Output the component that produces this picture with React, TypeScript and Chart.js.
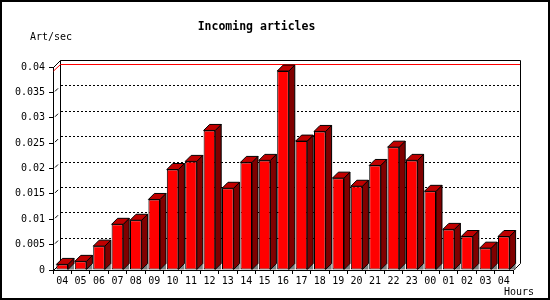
import React, { useEffect, useRef } from "react";
import { Chart, registerables } from "chart.js";

Chart.register(...registerables);

// ---- data ----
const hours: string[] = [
  "04", "05", "06", "07", "08", "09", "10", "11", "12", "13", "14", "15", "16",
  "17", "18", "19", "20", "21", "22", "23", "00", "01", "02", "03", "04",
];
const artPerSec: number[] = [
  0.0011, 0.0017, 0.0047, 0.009, 0.0098, 0.0139, 0.0198, 0.0214, 0.0275, 0.0161,
  0.0212, 0.0216, 0.0392, 0.0254, 0.0273, 0.0181, 0.0165, 0.0206, 0.0242, 0.0216,
  0.0155, 0.008, 0.0066, 0.0043, 0.0066,
];
const yMin = 0;
const yMax = 0.04;
const yStep = 0.005;
const chartTitle = "Incoming articles";
const yUnit = "Art/sec";
const xUnit = "Hours";

const FONT = "'DejaVu Sans Mono', monospace";
const DEPTH = 6; // bar depth
const WALL = 7; // back wall offset

const px = (v: number) => Math.round(v) + 0.5;

const threeDPlugin = {
  id: "threeD",
  beforeDraw(chart: any) {
    const { ctx, width, height } = chart;
    ctx.save();
    ctx.fillStyle = "#fff";
    ctx.fillRect(0, 0, width, height);
    ctx.restore();
  },
  beforeDatasetsDraw(chart: any) {
    const { ctx, chartArea } = chart;
    const { left, right, top, bottom } = chartArea;
    const y = chart.scales.y;
    ctx.save();
    ctx.lineWidth = 1;

    // dotted gridlines on the back wall
    ctx.strokeStyle = "#000";
    const tickVals = y.ticks.map((t: any) => t.value);
    tickVals.forEach((v: number) => {
      if (v <= yMin || v >= yMax - 1e-9) return;
      const yf = y.getPixelForValue(v);
      const yb = px(yf - WALL);
      ctx.setLineDash([2, 2]);
      ctx.beginPath();
      ctx.moveTo(Math.round(left + WALL) + 1, yb);
      ctx.lineTo(Math.round(right + WALL), yb);
      ctx.stroke();
      ctx.setLineDash([]);
      // short slash from the front axis
      ctx.beginPath();
      ctx.moveTo(left + 2, yf - 1);
      ctx.lineTo(left + 5, yf - 4);
      ctx.stroke();
    });

    // back wall frame
    ctx.strokeStyle = "#000";
    ctx.beginPath();
    ctx.moveTo(px(left + WALL), px(bottom - WALL));
    ctx.lineTo(px(left + WALL), px(top - WALL));
    ctx.lineTo(px(right + WALL), px(top - WALL));
    ctx.lineTo(px(right + WALL), px(bottom - WALL));
    ctx.stroke();
    ctx.beginPath();
    ctx.moveTo(left + 0.5, top + 0.5);
    ctx.lineTo(left + WALL + 0.5, top - WALL + 0.5);
    ctx.moveTo(right + 0.5, bottom + 0.5);
    ctx.lineTo(right + WALL + 0.5, bottom - WALL + 0.5);
    ctx.moveTo(left + 0.5, bottom + 0.5);
    ctx.lineTo(left + WALL + 0.5, bottom - WALL + 0.5);
    ctx.stroke();

    // red max line
    const maxVal = Math.max(...artPerSec);
    const yfm = y.getPixelForValue(maxVal);
    const ybm = px(yfm - WALL);
    ctx.strokeStyle = "#ff0000";
    ctx.beginPath();
    ctx.moveTo(left + 0.5, yfm);
    ctx.lineTo(left + WALL + 0.5, ybm);
    ctx.lineTo(Math.round(right + WALL), ybm);
    ctx.stroke();

    // 3D parts of bars
    const meta = chart.getDatasetMeta(0);
    meta.data.forEach((el: any) => {
      const p = el.getProps(["x", "y", "base", "width"], true);
      const l = p.x - p.width / 2;
      const r = p.x + p.width / 2;
      const t = p.y;
      const b = p.base;
      const d = DEPTH;
      ctx.strokeStyle = "#000";
      // shadow on the floor
      ctx.fillStyle = "#808080";
      ctx.beginPath();
      ctx.moveTo(r, b);
      ctx.lineTo(r + d, b - d);
      ctx.lineTo(r + d, b);
      ctx.closePath();
      ctx.fill();
      // side face
      ctx.fillStyle = "#800000";
      ctx.beginPath();
      ctx.moveTo(r, t);
      ctx.lineTo(r + d, t - d);
      ctx.lineTo(r + d, b - d);
      ctx.lineTo(r, b);
      ctx.closePath();
      ctx.fill();
      ctx.stroke();
      // top face
      ctx.fillStyle = "#c00000";
      ctx.beginPath();
      ctx.moveTo(l, t);
      ctx.lineTo(l + d, t - d);
      ctx.lineTo(r + d, t - d);
      ctx.lineTo(r, t);
      ctx.closePath();
      ctx.fill();
      ctx.stroke();
    });
    ctx.restore();
  },
  afterDraw(chart: any) {
    const { ctx, width, height } = chart;
    ctx.save();
    ctx.fillStyle = "#000";
    ctx.font = `10px ${FONT}`;
    ctx.textBaseline = "middle";
    ctx.textAlign = "left";
    ctx.fillText(yUnit, 30, 37);
    ctx.fillText(xUnit, 504, 292);
    ctx.strokeStyle = "#000";
    ctx.lineWidth = 2;
    ctx.strokeRect(1, 1, width - 2, height - 2);
    ctx.restore();
  },
};

export default function App() {
  const canvasRef = useRef<HTMLCanvasElement | null>(null);

  useEffect(() => {
    if (!canvasRef.current) return;
    const chart = new Chart(canvasRef.current, {
      type: "bar",
      data: {
        labels: hours,
        datasets: [
          {
            data: artPerSec,
            backgroundColor: "#ff0000",
            borderColor: "#000",
            borderWidth: 1,
            borderSkipped: false,
            barPercentage: 0.63,
            categoryPercentage: 1,
          },
        ],
      },
      options: {
        responsive: false,
        animation: false,
        devicePixelRatio: 1,
        layout: { padding: { left: 0, right: 37, top: 0, bottom: 0 } },
        plugins: {
          legend: { display: false },
          tooltip: { enabled: false },
          title: {
            display: true,
            text: chartTitle,
            color: "#000",
            font: { family: FONT, size: 11.5, weight: "bold" },
            padding: { top: 20, bottom: 33.2 },
          },
        },
        scales: {
          x: {
            type: "category",
            offset: true,
            grid: {
              offset: true,
              drawOnChartArea: false,
              drawTicks: true,
              tickLength: 4,
              color: "#000",
            },
            border: { display: true, color: "#000" },
            ticks: {
              color: "#000",
              font: { family: FONT, size: 10 },
              padding: 1,
              autoSkip: false,
              maxRotation: 0,
            },
            afterFit: (s: any) => {
              s.height = 30;
            },
          },
          y: {
            min: yMin,
            max: yMax,
            ticks: {
              stepSize: yStep,
              color: "#000",
              font: { family: FONT, size: 10 },
              padding: 4,
              callback: (v: any) => parseFloat(Number(v).toFixed(4)).toString(),
            },
            grid: {
              drawOnChartArea: false,
              drawTicks: true,
              tickLength: 4,
              color: "#000",
            },
            border: { display: true, color: "#000" },
            afterFit: (s: any) => {
              s.width = 53;
            },
          },
        },
      },
      plugins: [threeDPlugin],
    } as any);
    return () => chart.destroy();
  }, []);

  return (
    <div style={{ position: "absolute", left: 0, top: 0, width: 550, height: 300, background: "#fff" }}>
      <canvas ref={canvasRef} width={550} height={300} style={{ display: "block" }} />
    </div>
  );
}
